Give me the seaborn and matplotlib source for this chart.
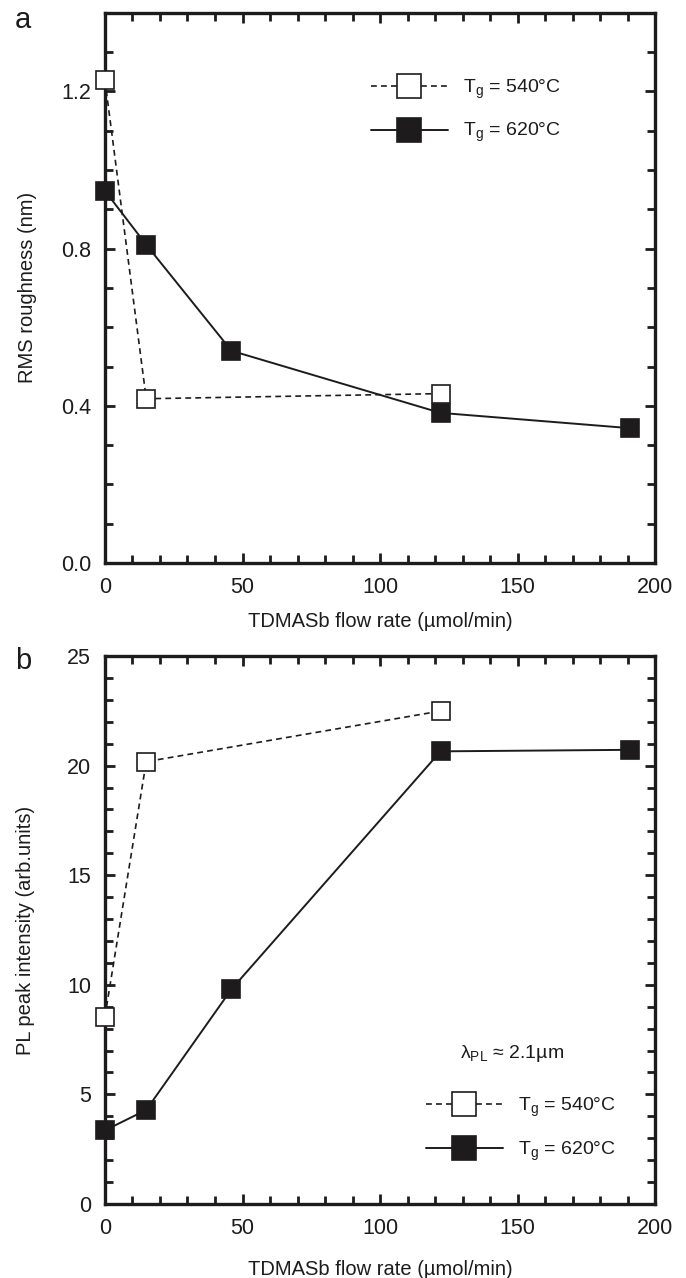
import matplotlib
matplotlib.use("Agg")
import matplotlib.pyplot as plt
import seaborn as sns
import pandas as pd

# panel a: RMS roughness vs TDMASb flow
flow_540 = [0, 15, 122]
rms_540 = [1.228, 0.418, 0.431]
flow_620 = [0, 15, 46, 122, 191]
rms_620 = [0.947, 0.81, 0.54, 0.382, 0.343]

# panel b: PL peak intensity vs TDMASb flow
pl_540 = [8.55, 20.18, 22.49]
pl_620 = [3.36, 4.29, 9.8, 20.65, 20.72]

labels = ["$T_g$ = 540°C", "$T_g$ = 620°C"]
xticks = [0, 50, 100, 150, 200]

INK = "#1e1b1c"

sns.set_theme(style="ticks")
plt.rcParams["font.family"] = ["Liberation Sans", "DejaVu Sans"]
plt.rcParams["mathtext.default"] = "regular"


def style_axes(ax, ylim, yticks, yminor):
    ax.set_xlim(0, 200)
    ax.set_ylim(*ylim)
    ax.set_xticks(xticks)
    ax.set_xticks(range(0, 201, 10), minor=True)
    ax.set_yticks(yticks)
    ax.set_yticks(yminor, minor=True)
    ax.tick_params(which="both", direction="in", top=True, right=True,
                   color=INK, labelcolor=INK, labelsize=15.5, pad=10)
    ax.tick_params(which="major", length=7, width=2)
    ax.tick_params(which="minor", length=6, width=2)
    for s in ax.spines.values():
        s.set_linewidth(2.4)
        s.set_color(INK)


def draw(ax, x1, y1, x2, y2):
    d1 = pd.DataFrame({"flow": x1, "val": y1})
    d2 = pd.DataFrame({"flow": x2, "val": y2})
    sns.lineplot(data=d1, x="flow", y="val", ax=ax, color=INK, linestyle=(0, (3.5, 2.5)),
                 linewidth=1.2, marker="s", markersize=13.5, markerfacecolor="white",
                 markeredgecolor=INK, markeredgewidth=1.2, label=labels[0],
                 clip_on=False, zorder=3)
    sns.lineplot(data=d2, x="flow", y="val", ax=ax, color=INK, linestyle="-",
                 linewidth=1.4, marker="s", markersize=13.5, markerfacecolor=INK,
                 markeredgecolor=INK, markeredgewidth=1.2, label=labels[1],
                 clip_on=False, zorder=4)


fig = plt.figure(figsize=(6.86, 12.78), dpi=100)
ax1 = fig.add_axes([0.153, 0.5595, 0.802, 0.4304])
ax2 = fig.add_axes([0.153, 0.0579, 0.802, 0.4288])

draw(ax1, flow_540, rms_540, flow_620, rms_620)
style_axes(ax1, (0, 1.4), [0.0, 0.4, 0.8, 1.2], [i / 10 for i in range(15)])
ax1.set_yticklabels(["0.0", "0.4", "0.8", "1.2"])
ax1.set_xlabel("TDMASb flow rate (µmol/min)", fontsize=14.5, color=INK, labelpad=10)
ax1.set_ylabel("RMS roughness (nm)", fontsize=14.5, color=INK, labelpad=17)
ax1.legend(loc="upper left", bbox_to_anchor=(0.465, 0.9), frameon=False, fontsize=14,
           handlelength=4.0, handletextpad=0.75, labelspacing=1.05, markerscale=1.25,
           borderpad=0, labelcolor=INK)

draw(ax2, flow_540, pl_540, flow_620, pl_620)
style_axes(ax2, (0, 25), [0, 5, 10, 15, 20, 25], list(range(26)))
ax2.set_xlabel("TDMASb flow rate (µmol/min)", fontsize=14.5, color=INK, labelpad=15)
ax2.set_ylabel("PL peak intensity (arb.units)", fontsize=14.5, color=INK, labelpad=23)
ax2.legend(loc="upper left", bbox_to_anchor=(0.565, 0.215), frameon=False, fontsize=14,
           handlelength=4.0, handletextpad=0.75, labelspacing=1.05, markerscale=1.25,
           borderpad=0, labelcolor=INK)
ax2.text(0.645, 0.2755, "$λ_{PL}$ ≈ 2.1µm", transform=ax2.transAxes, fontsize=14,
         color=INK, va="center", ha="left")

fig.text(0.022, 0.984, "a", fontsize=21, color=INK, va="center", ha="left")
fig.text(0.022, 0.483, "b", fontsize=21, color=INK, va="center", ha="left")

fig.savefig("out.png", dpi=100)
plt.close(fig)
